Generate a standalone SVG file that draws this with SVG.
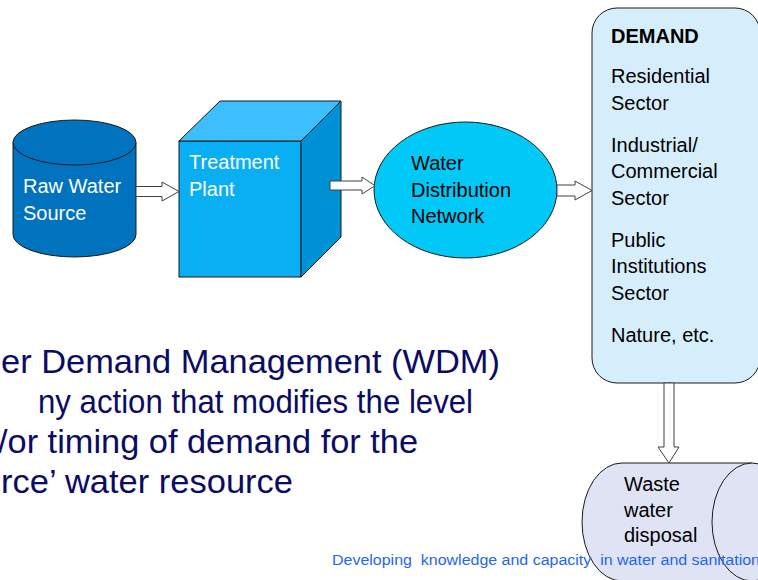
<svg xmlns="http://www.w3.org/2000/svg" width="758" height="580" viewBox="0 0 758 580">
<style>
.lbl{font-family:"Liberation Sans",Arial,sans-serif;font-size:20px}
.w{fill:#ffffff}
.k{fill:#000000}
.main{font-family:"Liberation Sans",Arial,sans-serif;font-size:33px;fill:#0B0B66}
.foot{font-family:"Liberation Sans",Arial,sans-serif;font-size:15.5px;fill:#1E66F5;white-space:pre}
.arrow{fill:#ffffff;stroke:#404040;stroke-width:1}
.edge{stroke:#1a1a1a;stroke-width:1}
</style>
<rect width="758" height="580" fill="#ffffff"/>

<g id="raw-water-source">
  <path d="M13,142.5 L13,234.5 A61.5,22.5 0 0 0 136,234.5 L136,142.5 Z" fill="#0072BE" class="edge"/>
  <ellipse cx="74.5" cy="142.5" rx="61.5" ry="22.5" fill="#0072BE" class="edge"/>
  <text class="lbl w" x="23" y="193">Raw Water</text>
  <text class="lbl w" x="23" y="220">Source</text>
</g>

<g id="treatment-plant">
  <rect x="179" y="141" width="122" height="136" fill="#0AAEF2" class="edge"/>
  <polygon points="179,141 220,101 341,101 301,141" fill="#3DBEFF" class="edge"/>
  <polygon points="301,141 341,101 341,237 301,277" fill="#0090D4" class="edge"/>
  <text class="lbl w" x="189" y="169">Treatment</text>
  <text class="lbl w" x="189" y="196">Plant</text>
</g>

<g id="water-distribution-network">
  <ellipse cx="465.5" cy="190" rx="91.5" ry="68" fill="#00C9F7" class="edge"/>
  <text class="lbl k" x="411" y="170">Water</text>
  <text class="lbl k" x="411" y="197">Distribution</text>
  <text class="lbl k" x="411" y="223">Network</text>
</g>

<g id="demand">
  <rect x="592" y="8" width="168" height="375" rx="25" ry="25" fill="#D6EEFB" class="edge"/>
  <text class="lbl k" x="611" y="43" font-weight="bold">DEMAND</text>
  <text class="lbl k" x="611" y="83">Residential</text>
  <text class="lbl k" x="611" y="110">Sector</text>
  <text class="lbl k" x="611" y="152">Industrial/</text>
  <text class="lbl k" x="611" y="178">Commercial</text>
  <text class="lbl k" x="611" y="205">Sector</text>
  <text class="lbl k" x="611" y="247">Public</text>
  <text class="lbl k" x="611" y="273">Institutions</text>
  <text class="lbl k" x="611" y="300">Sector</text>
  <text class="lbl k" x="611" y="342">Nature, etc.</text>
</g>

<g id="waste-water-disposal">
  <path d="M622,463 L752,463 L752,581 L622,581 A40,59 0 0 1 622,463 Z" fill="#DFE3F3" class="edge"/>
  <ellipse cx="752" cy="522" rx="40" ry="59" fill="#DFE3F3" class="edge"/>
  <text class="lbl k" x="624" y="491">Waste</text>
  <text class="lbl k" x="624" y="517">water</text>
  <text class="lbl k" x="624" y="542">disposal</text>
</g>

<g id="connectors">
  <polygon class="arrow" points="136,186.5 162,186.5 162,182 179,191.5 162,201 162,196.5 136,196.5"/>
  <polygon class="arrow" points="330,181 362,181 362,177 375,185.7 362,194 362,190 330,190"/>
  <polygon class="arrow" points="557,185 575,185 575,181 592,190.5 575,200 575,196 557,196"/>
  <polygon class="arrow" points="664,383 674,383 674,447 679,447 669,463 658,447 664,447"/>
</g>

<g id="wdm-text">
  <text class="main" x="1" y="373" textLength="499" lengthAdjust="spacingAndGlyphs">er Demand Management (WDM)</text>
  <text class="main" x="38" y="413" textLength="435" lengthAdjust="spacingAndGlyphs">ny action that modifies the level</text>
  <text class="main" x="-2" y="453" textLength="420" lengthAdjust="spacingAndGlyphs">/or timing of demand for the</text>
  <text class="main" x="1" y="493" textLength="292" lengthAdjust="spacingAndGlyphs">rce’ water resource</text>
</g>

<text class="foot" x="332" y="565" textLength="428" lengthAdjust="spacingAndGlyphs">Developing  knowledge and capacity  in water and sanitation</text>
</svg>
